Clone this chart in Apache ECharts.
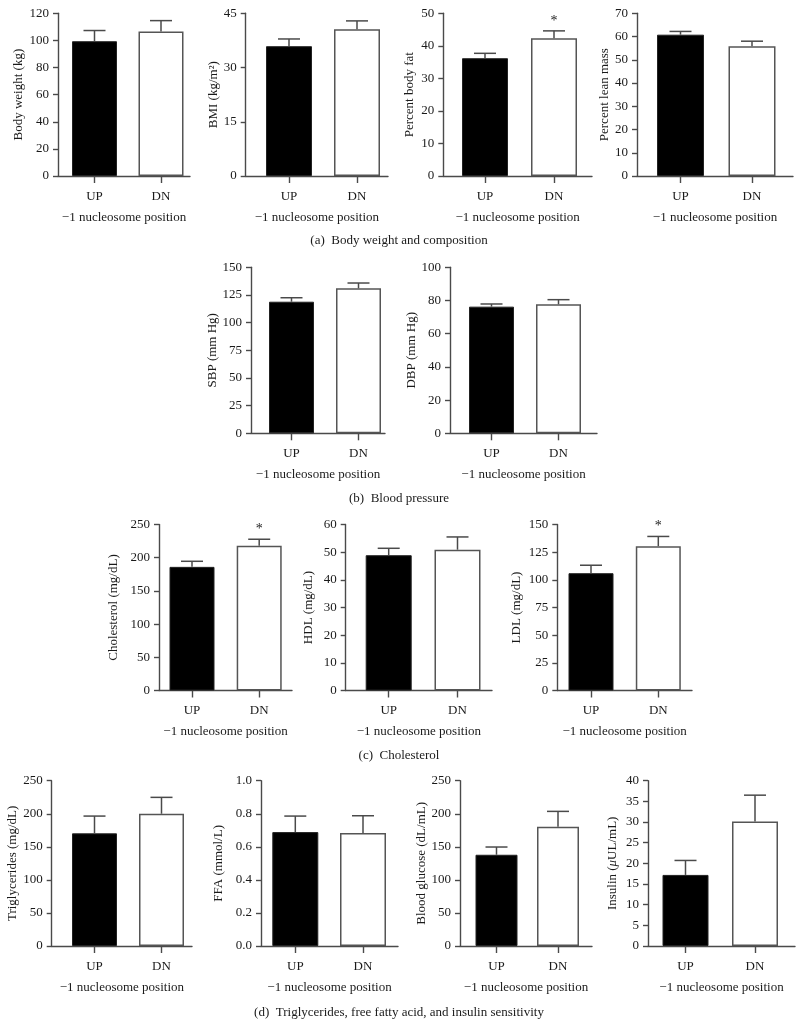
<!DOCTYPE html>
<html>
<head>
<meta charset="utf-8">
<script src="https://cdn.jsdelivr.net/npm/echarts@6/dist/echarts.min.js"></script>
<style>
html,body{margin:0;padding:0;background:#fff;}
#chart{width:798px;height:1027px;}
</style>
</head>
<body>
<div id="chart"></div>
<script>
// ---------------- DATA ----------------
const categories = ['UP', 'DN'];

const bodyWeightMean = [99.4, 106.5];
const bodyWeightSem = [7.9, 8.1];
const bmiMean = [35.9, 40.6];
const bmiSem = [2.0, 2.3];
const bodyFatMean = [36.2, 42.3];
const bodyFatSem = [1.5, 2.3];
const leanMassMean = [60.8, 55.8];
const leanMassSem = [1.4, 2.2];

const sbpMean = [118.9, 131.0];
const sbpSem = [3.6, 4.8];
const dbpMean = [76.3, 77.7];
const dbpSem = [1.6, 2.8];

const cholesterolMean = [186.2, 217.9];
const cholesterolSem = [8.4, 9.9];
const hdlMean = [48.9, 50.9];
const hdlSem = [2.5, 4.6];
const ldlMean = [106.0, 130.4];
const ldlSem = [7.2, 8.8];

const triglyceridesMean = [170.4, 200.0];
const triglyceridesSem = [26.1, 24.8];
const ffaMean = [0.689, 0.683];
const ffaSem = [0.097, 0.105];
const glucoseMean = [138.0, 180.4];
const glucoseSem = [11.7, 23.2];
const insulinMean = [17.2, 30.1];
const insulinSem = [3.5, 6.4];

const noSig = [false, false];
const dnSig = [false, true];

const xAxisTitle = '\u22121 nucleosome position';
const captions = [
  '(a)  Body weight and composition',
  '(b)  Blood pressure',
  '(c)  Cholesterol',
  '(d)  Triglycerides, free fatty acid, and insulin sensitivity'
];

// ---------------- LAYOUT ----------------
const rows = [
  {top: 13.3, bottom: 176, cap: 241},
  {top: 267.3, bottom: 433.3, cap: 499},
  {top: 524.5, bottom: 690.5, cap: 756},
  {top: 780.7, bottom: 946, cap: 1013}
];

const panels = [
  {name:'Body weight (kg)', mean:bodyWeightMean, sem:bodyWeightSem, sig:noSig, max:120, interval:20, row:0, ax:58, c:[94.5,161], right:190, bw:45, gap:30},
  {name:'BMI (kg/m\u00b2)', mean:bmiMean, sem:bmiSem, sig:noSig, max:45, interval:15, row:0, ax:245.7, c:[289,357], right:388, bw:46, gap:22},
  {name:'Percent body fat', mean:bodyFatMean, sem:bodyFatSem, sig:dnSig, max:50, interval:10, row:0, ax:443.3, c:[485,554], right:592, bw:46, gap:24},
  {name:'Percent lean mass', mean:leanMassMean, sem:leanMassSem, sig:noSig, max:70, interval:10, row:0, ax:637, c:[680.5,752], right:793, bw:47, gap:23},
  {name:'SBP (mm Hg)', mean:sbpMean, sem:sbpSem, sig:noSig, max:150, interval:25, row:1, ax:251, c:[291.5,358.5], right:385, bw:45, gap:29},
  {name:'DBP (mm Hg)', mean:dbpMean, sem:dbpSem, sig:noSig, max:100, interval:20, row:1, ax:450, c:[491.5,558.5], right:597, bw:45, gap:23},
  {name:'Cholesterol (mg/dL)', mean:cholesterolMean, sem:cholesterolSem, sig:dnSig, max:250, interval:50, row:2, ax:159, c:[192,259.2], right:292, bw:45, gap:36},
  {name:'HDL (mg/dL)', mean:hdlMean, sem:hdlSem, sig:noSig, max:60, interval:10, row:2, ax:345.7, c:[388.7,457.5], right:492, bw:46, gap:28},
  {name:'LDL (mg/dL)', mean:ldlMean, sem:ldlSem, sig:dnSig, max:150, interval:25, row:2, ax:557.3, c:[591,658.3], right:692, bw:45, gap:31},
  {name:'Triglycerides (mg/dL)', mean:triglyceridesMean, sem:triglyceridesSem, sig:noSig, max:250, interval:50, row:3, ax:51.7, c:[94.5,161.5], right:192, bw:45, gap:26},
  {name:'FFA (mmol/L)', mean:ffaMean, sem:ffaSem, sig:noSig, max:1.0, interval:0.2, row:3, ax:261, c:[295.3,363], right:398, bw:46, gap:33, fixed:1},
  {name:'Blood glucose (dL/mL)', mean:glucoseMean, sem:glucoseSem, sig:noSig, max:250, interval:50, row:3, ax:460, c:[496.5,558], right:592, bw:42, gap:29},
  {name:'Insulin ({i|\u03bc}UL/mL)', mean:insulinMean, sem:insulinSem, sig:noSig, max:40, interval:5, row:3, ax:648, c:[685.5,755], right:795, bw:46, gap:26}
];

// ---------------- STYLE ----------------
const FONT = 'Liberation Serif';
const TXT = '#1a1a1a';
const LINE = '#4a4a4a';

const grids = [], xAxes = [], yAxes = [], series = [];

panels.forEach((p, i) => {
  const r = rows[p.row];
  const unit = p.c[1] - p.c[0];
  const xmin = -(p.c[0] - p.ax) / unit;
  const xmax = 1 + (p.right - p.c[1]) / unit;
  grids.push({left: p.ax, top: r.top, width: p.right - p.ax, height: r.bottom - r.top});
  xAxes.push({
    type: 'value', gridIndex: i, min: xmin, max: xmax,
    splitLine: {show: false},
    axisLine: {show: true, onZero: false, lineStyle: {color: LINE, width: 1.4}},
    axisTick: {show: true, customValues: [0, 1], length: 7, lineStyle: {color: LINE, width: 1.4}},
    axisLabel: {customValues: [0, 1], formatter: v => categories[Math.round(v)], margin: 14,
      fontFamily: FONT, fontSize: 13, color: TXT},
    name: xAxisTitle, nameLocation: 'middle', nameGap: 35,
    nameTextStyle: {fontFamily: FONT, fontSize: 13, color: TXT}
  });
  yAxes.push({
    type: 'value', gridIndex: i, min: 0, max: p.max, interval: p.interval,
    splitLine: {show: false},
    axisLine: {show: true, onZero: false, lineStyle: {color: LINE, width: 1.4}},
    axisTick: {show: true, length: 5, lineStyle: {color: LINE, width: 1.4}},
    axisLabel: {margin: 9, fontFamily: FONT, fontSize: 13, color: TXT,
      formatter: p.fixed ? (v => v.toFixed(p.fixed)) : (v => String(v))},
    name: p.name, nameLocation: 'middle', nameGap: p.gap + 3,
    nameTextStyle: {fontFamily: FONT, fontSize: 13, color: TXT,
      rich: {i: {fontFamily: FONT, fontSize: 13, color: TXT, fontStyle: 'italic'}}}
  });
  series.push({
    type: 'bar', xAxisIndex: i, yAxisIndex: i, barWidth: p.bw,
    data: categories.map((c, k) => ({
      value: [k, p.mean[k]],
      itemStyle: k === 0
        ? {color: '#000', borderColor: '#222', borderWidth: 1}
        : {color: '#fff', borderColor: '#555', borderWidth: 1.5}
    })),
    silent: true, animation: false
  });
  series.push({
    type: 'custom', xAxisIndex: i, yAxisIndex: i, z: 5, clip: false,
    data: categories.map((c, k) => [k, p.mean[k], p.sem[k], p.sig[k] ? 1 : 0]),
    encode: {x: 0, y: 1},
    renderItem: (params, api) => {
      const x = api.value(0), m = api.value(1), s = api.value(2), sig = api.value(3);
      const b = api.coord([x, m]);
      const t = api.coord([x, m + s]);
      const ch = [
        {type: 'line', shape: {x1: b[0], y1: b[1], x2: t[0], y2: t[1]}, style: {stroke: LINE, lineWidth: 1.5}},
        {type: 'line', shape: {x1: t[0] - 11, y1: t[1], x2: t[0] + 11, y2: t[1]}, style: {stroke: LINE, lineWidth: 1.5}}
      ];
      if (sig) {
        ch.push({type: 'text', style: {text: '*', x: t[0], y: t[1] - 3, align: 'center', verticalAlign: 'bottom',
          font: '14px "' + FONT + '"', fill: TXT}});
      }
      return {type: 'group', children: ch};
    },
    silent: true, animation: false
  });
});

const graphics = captions.map((c, k) => ({
  type: 'text', left: 'center', top: rows[k].cap - 7,
  style: {text: c, font: '13px "' + FONT + '"', fill: TXT}
}));

const chart = echarts.init(document.getElementById('chart'), null, {renderer: 'canvas'});
chart.setOption({
  backgroundColor: '#fff',
  animation: false,
  grid: grids, xAxis: xAxes, yAxis: yAxes, series: series,
  graphic: graphics
});
</script>
</body>
</html>
